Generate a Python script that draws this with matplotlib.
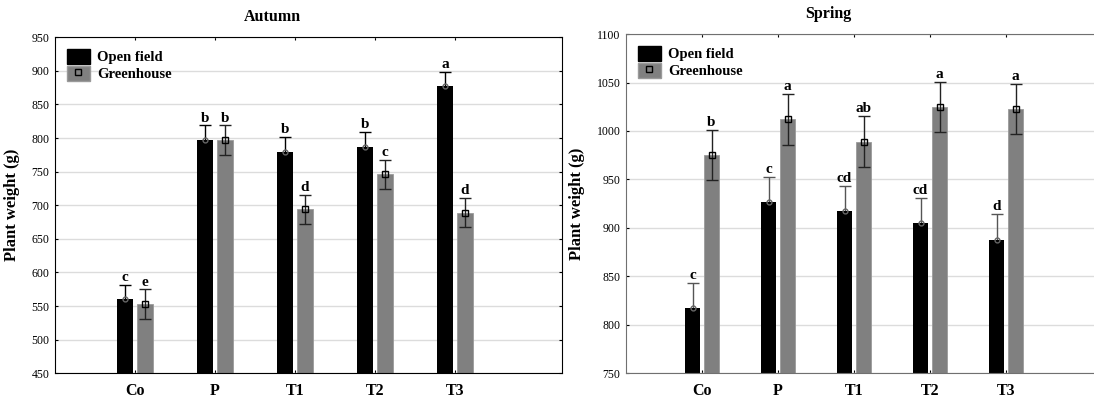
import numpy as np
import matplotlib.pyplot as plt
from matplotlib.lines import Line2D
from matplotlib.patches import Patch

plt.rcParams['font.family'] = ['Liberation Serif', 'DejaVu Serif']

categories = ["Co", "P", "T1", "T2", "T3"]

# Autumn
aut_open = [561, 797, 779, 786, 877]
aut_open_err = [21, 22, 23, 23, 22]
aut_green = [553, 797, 694, 746, 689]
aut_green_err = [22, 22, 22, 22, 22]
aut_open_letters = ["c", "b", "b", "b", "a"]
aut_green_letters = ["e", "b", "d", "c", "d"]

# Spring
spr_open = [817, 927, 917, 905, 888]
spr_open_err = [26, 26, 26, 26, 26]
spr_green = [975, 1012, 989, 1025, 1023]
spr_green_err = [26, 26, 26, 26, 26]
spr_open_letters = ["c", "c", "cd", "cd", "d"]
spr_green_letters = ["b", "a", "ab", "a", "a"]

fig = plt.figure(figsize=(10.94, 4.0), dpi=100)
ax1 = fig.add_axes([0.0503, 0.0668, 0.4634, 0.84])
ax2 = fig.add_axes([0.5722, 0.0668, 0.4406, 0.848])

GREY = "#808080"


def panel(ax, op, op_err, gr, gr_err, op_let, gr_let, ylim, step, spine_col, err_col):
    x = np.arange(1, len(categories) + 1)
    w = 0.2
    off = 0.125
    ax.bar(x - off, op, w, color="black", zorder=2)
    ax.bar(x + off, gr, w, color=GREY, edgecolor="#9a9a9a", linewidth=0.6, zorder=2)
    # open-field error bars sit behind the black bars, only the upper half shows
    ax.errorbar(x - off, op, yerr=op_err, fmt="none", ecolor=err_col, elinewidth=1,
                capsize=4, capthick=1, zorder=1.5)
    ax.plot(x - off, op, "o", ms=3.5, mfc="none", mec="#666666", zorder=3)
    ax.errorbar(x + off, gr, yerr=gr_err, fmt="s", ms=4.5, mfc="none", mec="black",
                ecolor="#222222", elinewidth=1, capsize=4, capthick=1, zorder=3)
    for i in range(len(categories)):
        ax.text(x[i] - off, op[i] + op_err[i] + 1, op_let[i], ha="center", va="bottom",
                fontsize=11, fontweight="bold")
        ax.text(x[i] + off, gr[i] + gr_err[i] + 1, gr_let[i], ha="center", va="bottom",
                fontsize=11, fontweight="bold")
    ax.set_xlim(0, 6.34)
    ax.set_ylim(*ylim)
    ax.set_yticks(np.arange(ylim[0], ylim[1] + 1, step))
    ax.set_xticks(x)
    ax.set_xticklabels(categories, fontsize=11.5, fontweight="bold")
    ax.tick_params(axis="y", labelsize=8.5, direction="in", length=2.5, pad=4, right=True)
    ax.tick_params(axis="x", direction="in", length=2.5, pad=7, top=True)
    ax.yaxis.grid(True, color="#dcdcdc", linewidth=1, zorder=0)
    ax.set_axisbelow(True)
    for s in ax.spines.values():
        s.set_color(spine_col)
    ax.set_ylabel("Plant weight (g)", fontsize=12, fontweight="bold", labelpad=8)
    handles = [Patch(facecolor="black", edgecolor="black"),
               (Patch(facecolor=GREY, edgecolor="#9a9a9a"),
                Line2D([], [], marker="s", ms=4.5, mfc="none", mec="black", ls="none"))]
    ax.legend(handles, ["Open field", "Greenhouse"], loc="upper left", frameon=False,
              prop={"weight": "bold", "size": 10.5}, handlelength=1.6, handleheight=1.2,
              handletextpad=0.5, labelspacing=0.12, borderaxespad=0.5, borderpad=0.3)


panel(ax1, aut_open, aut_open_err, aut_green, aut_green_err, aut_open_letters,
      aut_green_letters, (450, 950), 50, "black", "black")
panel(ax2, spr_open, spr_open_err, spr_green, spr_green_err, spr_open_letters,
      spr_green_letters, (750, 1100), 50, "#707070", "#555555")

fig.text(272 / 1094, 1 - 17 / 400, "Autumn", ha="center", va="center", fontsize=11.5, fontweight="bold")
fig.text(828 / 1094, 1 - 14 / 400, "Spring", ha="center", va="center", fontsize=11.5, fontweight="bold")

fig.savefig("out.png", dpi=100)
